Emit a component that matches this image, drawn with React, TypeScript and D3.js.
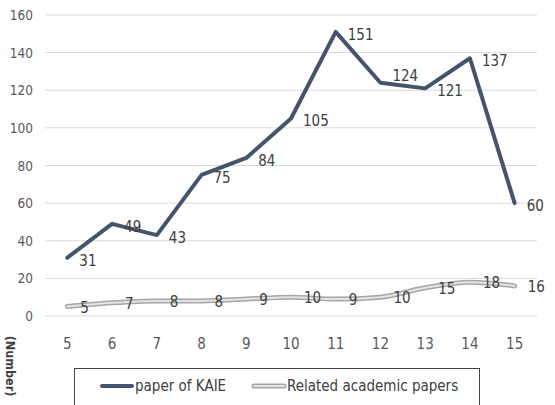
import React from "react";
import * as d3 from "d3";

const categories = ["5", "6", "7", "8", "9", "10", "11", "12", "13", "14", "15"];
const kaieValues = [31, 49, 43, 75, 84, 105, 151, 124, 121, 137, 60];
const relatedValues = [5, 7, 8, 8, 9, 10, 9, 10, 15, 18, 16];
const yTicks = [0, 20, 40, 60, 80, 100, 120, 140, 160];
const seriesNames = ["paper of KAIE", "Related academic papers"];

const W = 555;
const H = 405;
const FONT = "'DejaVu Sans', sans-serif";

export default function App() {
  const x = d3.scaleBand<string>().domain(categories).range([45, 537]);
  const y = d3.scaleLinear().domain([0, 160]).range([316, 15]);
  const cx = (c: string) => (x(c) ?? 0) + x.bandwidth() / 2;

  const kaieLine = d3
    .line<number>()
    .x((_, i) => cx(categories[i]))
    .y((d) => y(d));
  const relLine = d3
    .line<number>()
    .x((_, i) => cx(categories[i]))
    .y((d) => y(d))
    .curve(d3.curveMonotoneX);

  // lift a label above the line where the next segment would cross it
  const kaieLabelDy = (i: number) => {
    const prev = kaieValues[i - 1];
    const next = kaieValues[i + 1];
    if (prev !== undefined && next !== undefined && next < kaieValues[i] && prev > kaieValues[i]) return -7;
    return 3;
  };

  return (
    <svg
      width={W}
      height={H}
      style={{ position: "absolute", left: 0, top: 0, background: "#fff" }}
      fontFamily={FONT}
    >
      {/* horizontal gridlines */}
      {yTicks.map((t) => (
        <line key={t} x1={45} x2={537} y1={y(t)} y2={y(t)} stroke="#d9d9d9" strokeWidth={1} />
      ))}
      {/* y tick labels */}
      {yTicks.map((t) => (
        <text
          key={"yl" + t}
          x={33}
          y={y(t)}
          textAnchor="end"
          dominantBaseline="central"
          fontSize={13.5}
          fill="#595959"
          style={{ fontStretch: "condensed" }}
        >
          {t}
        </text>
      ))}
      {/* x tick labels */}
      {categories.map((c) => (
        <text
          key={"xl" + c}
          x={cx(c)}
          y={344}
          textAnchor="middle"
          dominantBaseline="central"
          fontSize={15}
          fill="#595959"
          style={{ fontStretch: "condensed" }}
        >
          {c}
        </text>
      ))}

      {/* related academic papers: outlined gray line */}
      <path d={relLine(relatedValues) ?? ""} fill="none" stroke="#a6a6a6" strokeWidth={5} strokeLinecap="round" strokeLinejoin="round" />
      <path d={relLine(relatedValues) ?? ""} fill="none" stroke="#e4e4e4" strokeWidth={2} strokeLinecap="round" strokeLinejoin="round" />

      {/* paper of KAIE */}
      <path d={kaieLine(kaieValues) ?? ""} fill="none" stroke="#44546a" strokeWidth={4} strokeLinecap="round" strokeLinejoin="round" />

      {/* data labels */}
      {kaieValues.map((v, i) => (
        <text
          key={"kv" + i}
          x={cx(categories[i]) + 12}
          y={y(v) + kaieLabelDy(i)}
          dominantBaseline="central"
          fontSize={15}
          fill="#404040"
          style={{ fontStretch: "condensed" }}
        >
          {v}
        </text>
      ))}
      {relatedValues.map((v, i) => (
        <text
          key={"rv" + i}
          x={cx(categories[i]) + 13}
          y={y(v) + 1}
          dominantBaseline="central"
          fontSize={15}
          fill="#404040"
          style={{ fontStretch: "condensed" }}
        >
          {v}
        </text>
      ))}

      {/* axis title */}
      <text
        transform="translate(10,366) rotate(90)"
        textAnchor="middle"
        dominantBaseline="central"
        fontSize={12.5}
        fontWeight="bold"
        fill="#404040"
        style={{ fontStretch: "condensed" }}
      >
        (Number)
      </text>

      {/* legend */}
      <rect x={74.5} y={368.5} width={405} height={50} fill="#fff" stroke="#404040" strokeWidth={1} />
      <line x1={102} x2={132} y1={386} y2={386} stroke="#44546a" strokeWidth={4} strokeLinecap="round" />
      <text x={135} y={386} dominantBaseline="central" fontSize={15} fill="#404040" style={{ fontStretch: "condensed" }}>
        {seriesNames[0]}
      </text>
      <line x1={254} x2={284} y1={386} y2={386} stroke="#a6a6a6" strokeWidth={5} strokeLinecap="round" />
      <line x1={254} x2={284} y1={386} y2={386} stroke="#e4e4e4" strokeWidth={2} strokeLinecap="round" />
      <text x={287} y={386} dominantBaseline="central" fontSize={15} fill="#404040" style={{ fontStretch: "condensed" }}>
        {seriesNames[1]}
      </text>
    </svg>
  );
}
